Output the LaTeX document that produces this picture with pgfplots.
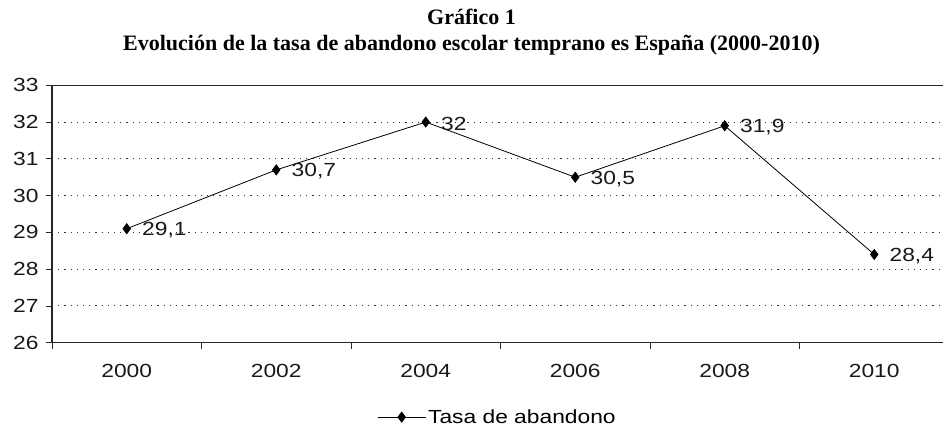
\documentclass[border=0pt]{standalone}
\usepackage{fontspec}
\setmainfont{Liberation Sans}[FakeStretch=1.2]
\newfontfamily\titlefont{Liberation Serif}
\usepackage{pgfplots}
\pgfplotsset{compat=1.18}
\begin{document}
\begin{tikzpicture}[x=1pt,y=1pt]
\path[use as bounding box] (0,0) rectangle (943,426);
\node[font=\titlefont\bfseries\fontsize{22}{25}\selectfont] at (471.5,409) {Gráfico 1};
\node[font=\titlefont\bfseries\fontsize{22}{25}\selectfont] at (471.5,381) {Evolución de la tasa de abandono escolar temprano es España (2000-2010)};
\begin{axis}[
  at={(52pt,83.3pt)}, anchor=south west,
  scale only axis, width=891pt, height=257.4pt,
  xmin=-0.5, xmax=5.46, ymin=26, ymax=33,
  axis x line*=bottom, axis y line*=left,
  axis line style={line width=1.2pt, draw=black!85},
  ytick={26,...,33},
  xtick={0,...,5}, xticklabels={2000,2002,2004,2006,2008,2010},
  major x tick style={draw=none},
  minor xtick={-0.5,0.5,1.5,2.5,3.5,4.5},
  minor tick length=6pt, major tick length=6pt,
  tick align=outside,
  tick style={line width=0.8pt, black!85},
  ymajorgrids,
  grid style={black!80, line width=0.9pt, dash pattern=on 1.2pt off 5pt},
  /pgf/number format/assume math mode=true,
  ticklabel style={font=\fontsize{19}{22}\selectfont, black!90},
  xticklabel style={yshift=-12pt},
  yticklabel style={xshift=-4pt},
  clip=false,
  legend style={at={(0.5,-0.289)}, anchor=center, draw=none, font=\fontsize{19}{22}\selectfont, fill=none, inner sep=0pt},
  legend image code/.code={\draw[mark repeat=2,mark phase=2,#1] plot coordinates {(0pt,0pt) (24pt,0pt) (48pt,0pt)};},
]
\draw[black!85, line width=1.2pt] (rel axis cs:0,1) -- (rel axis cs:1,1);
\addplot[black, line width=0.8pt, mark=diamond*, mark size=5pt,
  point meta=explicit symbolic,
  nodes near coords,
  every node near coord/.append style={anchor=west, inner sep=0pt, xshift=15pt, yshift=-1.5pt, font=\fontsize{19}{22}\selectfont, black!90}]
coordinates {
(0,29.1) [29,1]
(1,30.7) [30,7]
(2,32.0) [32]
(3,30.5) [30,5]
(4,31.9) [31,9]
(5,28.4) [28,4]
};
\addlegendentry{Tasa de abandono}
\end{axis}
\end{tikzpicture}
\end{document}
